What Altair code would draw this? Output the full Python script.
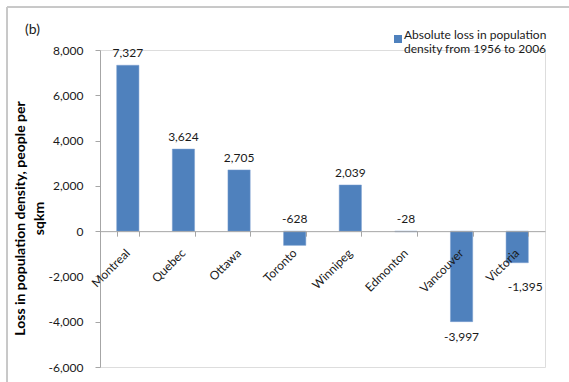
import altair as alt
import pandas as pd

# Change in population density between 1956 and 2006, by city
cities = ["Montreal", "Quebec", "Ottawa", "Toronto", "Winnipeg", "Edmonton", "Vancouver", "Victoria"]
density_loss = [7327, 3624, 2705, -628, 2039, -28, -3997, -1395]
series_name = "Absolute loss in population|density from 1956 to 2006"
y_ticks = [-6000, -4000, -2000, 0, 2000, 4000, 6000, 8000]

df = pd.DataFrame({"city": cities, "loss": density_loss, "series": series_name})

FONT = "Lato"
BLUE = "#4f81bd"
INK = "#1a1a1a"
W, H = 445, 317
Y_MIN, Y_MAX = -6000, 8000
zero_offset = -(H - H * Y_MAX / (Y_MAX - Y_MIN))  # move the category axis up to y = 0

# thousands separator with a plain hyphen for negatives
NUM = "replace(format({v}, ',.0f'), '\u2212', '-')"

x_enc = alt.X(
    "city:N",
    sort=cities,
    scale=alt.Scale(paddingInner=0.6, paddingOuter=0.3),
    axis=alt.Axis(
        title=None,
        offset=zero_offset,
        labelAngle=-45,
        labelAlign="right",
        labelBaseline="top",
        labelPadding=11,
        labelOffset=-4,
        labelFontSize=12,
        labelFont=FONT,
        labelColor=INK,
        tickBand="extent",
        tickSize=5,
        tickColor="#a6a6a6",
        domainColor="#a6a6a6",
        zindex=1,
    ),
)

y_scale = alt.Scale(domain=[Y_MIN, Y_MAX], nice=False)

bars = alt.Chart(df).mark_bar(stroke="#7a9fd0", strokeWidth=0.5).encode(
    x=x_enc,
    y=alt.Y(
        "loss:Q",
        scale=y_scale,
        axis=alt.Axis(
            values=y_ticks,
            labelExpr=NUM.format(v="datum.value"),
            title=["Loss in population density, people per", "sqkm"],
            titleFont=FONT,
            titleFontSize=14,
            titleFontWeight="bold",
            titleColor="#000000",
            titleAngle=-90,
            titleX=-80,
            titleY=H * 0.53,
            titleAlign="center",
            titleBaseline="middle",
            titleLineHeight=19,
            labelFont=FONT,
            labelFontSize=12,
            labelColor=INK,
            labelPadding=12,
            tickSize=5,
            tickColor="#a6a6a6",
            domainColor="#a6a6a6",
            grid=False,
        ),
    ),
    y2=alt.datum(0),
    color=alt.Color(
        "series:N",
        scale=alt.Scale(range=[BLUE]),
        legend=alt.Legend(
            title=None,
            orient="none",
            legendX=292,
            legendY=-17,
            symbolType="square",
            symbolSize=64,
            symbolStrokeWidth=0,
            labelExpr="split(datum.label, '|')",
            labelFont=FONT,
            labelFontSize=12,
            labelColor=INK,
            labelLimit=300,
            labelBaseline="alphabetic",
            labelOffset=0,
            padding=0,
        ),
    ),
)

text_style = dict(font=FONT, fontSize=12, color=INK)

# Labels above positive bars and above the zero line for small negatives
upper = alt.Chart(df).transform_filter("datum.loss > -1000").transform_calculate(
    anchor="max(datum.loss, 0)", txt=NUM.format(v="datum.loss")
).mark_text(baseline="bottom", dy=-5, **text_style).encode(
    x=alt.X("city:N", sort=cities),
    y=alt.Y("anchor:Q", scale=y_scale),
    text="txt:N",
)

# Label beneath the Vancouver bar
lower_a = alt.Chart(df).transform_filter("datum.city == 'Vancouver'").transform_calculate(
    txt=NUM.format(v="datum.loss")
).mark_text(baseline="top", dy=10, **text_style).encode(
    x=alt.X("city:N", sort=cities),
    y=alt.Y("loss:Q", scale=y_scale),
    text="txt:N",
)

# Label beneath and slightly right of the Victoria bar
lower_b = alt.Chart(df).transform_filter("datum.city == 'Victoria'").transform_calculate(
    txt=NUM.format(v="datum.loss")
).mark_text(baseline="top", dx=8, dy=19, **text_style).encode(
    x=alt.X("city:N", sort=cities),
    y=alt.Y("loss:Q", scale=y_scale),
    text="txt:N",
)

# Panel tag in the top-left corner
tag = alt.Chart(df).transform_filter("datum.city == 'Montreal'").mark_text(
    text="(b)", align="left", baseline="middle", font=FONT, fontSize=14, color=INK
).encode(x=alt.value(-75), y=alt.value(-20))

# Thin frame along the top and left of the chart area
frame_top = alt.Chart(df).mark_rule(color="#c8c8c8", strokeWidth=1, clip=False).encode(
    x=alt.value(-93), x2=alt.value(W + 24), y=alt.value(-43)
)
frame_left = alt.Chart(df).mark_rule(color="#c8c8c8", strokeWidth=1, clip=False).encode(
    x=alt.value(-93), y=alt.value(-43), y2=alt.value(H + 15)
)

chart = (
    alt.layer(frame_top, frame_left, bars, upper, lower_a, lower_b, tag)
    .properties(
        width=W,
        height=H,
        autosize=alt.AutoSizeParams(type="none"),
        padding={"left": 100, "top": 50, "right": 24, "bottom": 15},
    )
    .configure_view(stroke=None)
    .configure(background="white")
)

chart.save("out.html", embed_options={"renderer": "svg", "actions": False})
